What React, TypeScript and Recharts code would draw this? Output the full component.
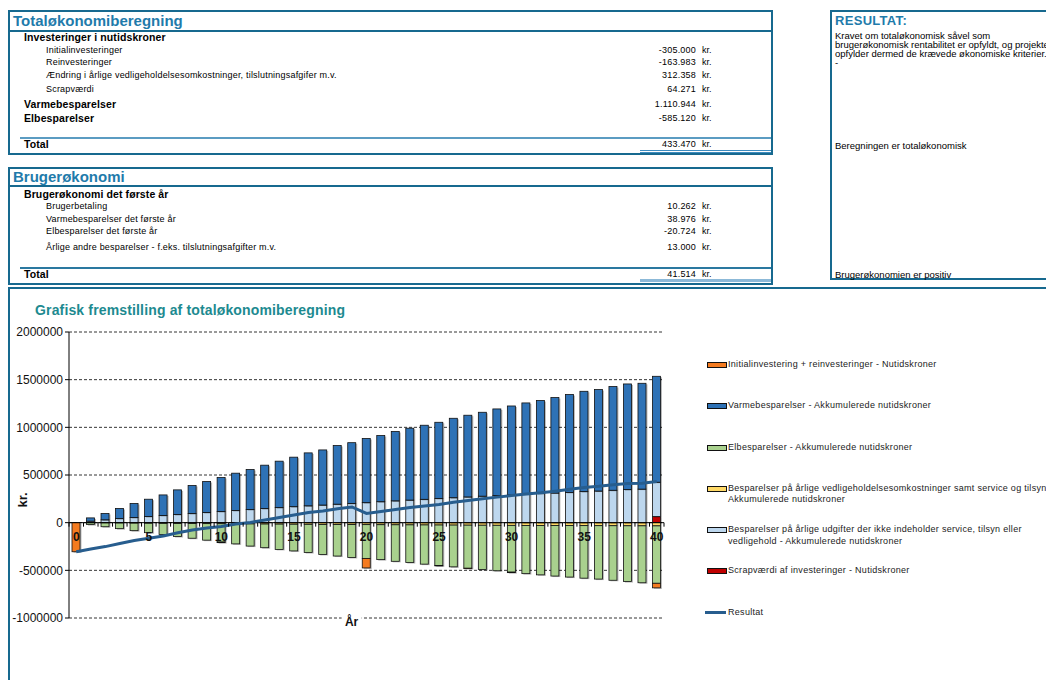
import React from 'react';
import { ComposedChart, Bar, Line, XAxis, YAxis, CartesianGrid, ReferenceLine } from 'recharts';

// ---------------- DATA ----------------
const years = ['0','1','2','3','4','5','6','7','8','9','10','11','12','13','14','15','16','17','18','19','20','21','22','23','24','25','26','27','28','29','30','31','32','33','34','35','36','37','38','39','40'];

const initialReinvest = [-305000,0,0,0,0,0,0,0,0,0,-6000,0,0,0,0,0,0,0,0,0,-100000,0,0,0,0,-4000,0,-3000,0,0,-5000,0,0,0,0,0,0,0,0,0,-48000];
const varme = [0,34000,66000,106000,147000,181000,215000,258000,294000,325000,357000,391000,420000,455000,487000,519000,555000,578000,615000,637000,673000,694000,727000,754000,777000,799000,833000,857000,880000,908000,932000,957000,976000,1001000,1026000,1052000,1064000,1088000,1108000,1110000,1111000];
const el = [0,-19000,-40000,-59000,-79000,-99000,-118000,-137000,-154000,-173000,-192000,-210000,-232000,-248000,-265000,-280000,-296000,-315000,-331000,-345000,-354000,-366000,-383000,-395000,-411000,-425000,-438000,-452000,-464000,-477000,-491000,-506000,-518000,-530000,-540000,-551000,-560000,-572000,-585000,-597000,-602000];
const vedligehold = [0,-1200,-2500,-3600,-4800,-6000,-7100,-8200,-9300,-10400,-11400,-12500,-13500,-14500,-15400,-16400,-17300,-18200,-19100,-20000,-20800,-21600,-22400,-23200,-24000,-24700,-25400,-26100,-26800,-27500,-28100,-28700,-29400,-30000,-30600,-31100,-31700,-32200,-32800,-33300,-33800];
const udgifter = [0,16000,30000,43000,54000,65000,76000,86000,96000,107000,117000,128000,138000,148000,158000,168000,177000,185000,194000,202000,210000,220000,229000,237000,245000,254000,262000,270000,278000,285000,292000,299000,305000,311000,318000,326000,332000,340000,347000,352000,360000];
const scrap = [0,0,0,0,0,0,0,0,0,0,0,0,0,0,0,0,0,0,0,0,0,0,0,0,0,0,0,0,0,0,0,0,0,0,0,0,0,0,0,0,64271];
const resultat = [-305000,-276000,-251000,-219000,-188000,-164000,-139000,-106000,-78000,-56000,-40000,-15000,2000,29000,54000,80000,106000,122000,146000,165000,97000,116000,138000,160000,176000,190000,214000,232000,250000,268000,284000,300000,313000,330000,350000,370000,382000,398000,412000,414000,432000];

const yTicks = [-1000000, -500000, 0, 500000, 1000000, 1500000, 2000000];

const legendNames = [
  'Initialinvestering + reinvesteringer - Nutidskroner',
  'Varmebesparelser - Akkumulerede nutidskroner',
  'Elbesparelser - Akkumulerede nutidskroner',
  'Besparelser på årlige vedligeholdelsesomkostninger samt service og tilsyn -\nAkkumulerede nutidskroner',
  'Besparelser på årlige udgifter der ikke indeholder service, tilsyn eller\nvedligehold - Akkumulerede nutidskroner',
  'Scrapværdi af investeringer - Nutidskroner',
  'Resultat',
];

const totalLabels = ['Investeringer i nutidskroner','Initialinvesteringer','Reinvesteringer','Ændring i årlige vedligeholdelsesomkostninger, tilslutningsafgifer m.v.','Scrapværdi','Varmebesparelser','Elbesparelser','Total'];
const totalValues = ['', '-305.000', '-163.983', '312.358', '64.271', '1.110.944', '-585.120', '433.470'];
const brugerLabels = ['Brugerøkonomi det første år','Brugerbetaling','Varmebesparelser det første år','Elbesparelser det første år','Årlige andre besparelser - f.eks. tilslutningsafgifter m.v.','Total'];
const brugerValues = ['', '10.262', '38.976', '-20.724', '13.000', '41.514'];
const resultatLines = ['Kravet om totaløkonomisk såvel som', 'brugerøkonomisk rentabilitet er opfyldt, og projektet', 'opfylder dermed de krævede økonomiske kriterier.', '-'];
const resultatNote1 = 'Beregningen er totaløkonomisk';
const resultatNote2 = 'Brugerøkonomien er positiv';

// ---------------- STYLE / LAYOUT ----------------
const BORDER = '#17698f';
const TITLE = '#1f7bab';
const C_ORANGE = '#f47b20';
const C_BLUE = '#2e72b6';
const C_GREEN = '#a9d18e';
const C_YELLOW = '#ffd966';
const C_LIGHT = '#bdd7ee';
const C_RED = '#c00000';
const C_LINE = '#275d8e';
const legendColors = [C_ORANGE, C_BLUE, C_GREEN, C_YELLOW, C_LIGHT, C_RED, C_LINE];

const FONT = "'Liberation Sans', Arial, sans-serif";

const totalRowY = [37.7, 50.7, 62.3, 75, 89.3, 104.3, 118.3, 144.3];
const totalBold = [true, false, false, false, false, true, true, true];
const brugerRowY = [194.3, 206, 219, 231.7, 247.3, 274.3];
const brugerBold = [true, false, false, false, false, true];

const CH_W = 1036, CH_H = 390;
const MARGIN = { top: 42, right: 382, bottom: 32, left: 0 };
const YAXIS_W = 59, XAXIS_H = 30;
const PLOT_H = CH_H - MARGIN.top - MARGIN.bottom - XAXIS_H;
const PLOT_W = CH_W - MARGIN.left - MARGIN.right - YAXIS_W;
const Y_MIN = -1000000, Y_MAX = 2000000;
const ZERO_Y = MARGIN.top + (PLOT_H * Y_MAX) / (Y_MAX - Y_MIN);
const BAND = PLOT_W / years.length;

const data = years.map((y, i) => ({
  year: y,
  initial: initialReinvest[i],
  varme: varme[i],
  el: el[i],
  vedl: vedligehold[i],
  udg: udgifter[i],
  scrap: scrap[i],
  resultat: resultat[i],
}));

function ShadowBar(props: any) {
  const { x, y, width, height, fill } = props;
  if (!height || Math.abs(height) < 0.01 || !width) return null;
  const top = height < 0 ? y + height : y;
  const h = Math.abs(height);
  return (
    <g>
      <rect x={x + 1.5} y={top + 1} width={width} height={h} fill="#000" fillOpacity={0.28} />
      <rect x={x} y={top} width={width} height={h} fill={fill} stroke="#111" strokeWidth={0.8} />
    </g>
  );
}

function XTick(props: any) {
  const { x, payload } = props;
  const v = Number(payload.value);
  const last = payload.value === years[years.length - 1];
  return (
    <g>
      <line x1={x - BAND / 2} x2={x - BAND / 2} y1={ZERO_Y} y2={ZERO_Y + 4} stroke="#000" strokeWidth={1} />
      {last && <line x1={x + BAND / 2} x2={x + BAND / 2} y1={ZERO_Y} y2={ZERO_Y + 4} stroke="#000" strokeWidth={1} />}
      {v % 5 === 0 && (
        <text x={x} y={ZERO_Y + 14} textAnchor="middle" dominantBaseline="central" fontSize={12} fontWeight="bold" fill="#111" fontFamily={FONT}>
          {payload.value}
        </text>
      )}
    </g>
  );
}

function XTitle(props: any) {
  const vb = props.viewBox || { x: MARGIN.left + YAXIS_W, y: MARGIN.top + PLOT_H, width: PLOT_W };
  const cx = vb.x + vb.width * 0.475;
  const cy = vb.y + 4;
  return (
    <g>
      <rect x={cx - 10} y={cy - 6} width={20} height={12} fill="#fff" />
      <text x={cx} y={cy} textAnchor="middle" dominantBaseline="central" fontSize={12} fontWeight="bold" fill="#111" fontFamily={FONT}>År</text>
    </g>
  );
}

function YTitle(props: any) {
  const vb = props.viewBox || { x: 0, y: MARGIN.top, height: PLOT_H };
  const cx = vb.x + 13;
  const cy = vb.y + vb.height * 0.587;
  return (
    <text x={cx} y={cy} transform={`rotate(-90 ${cx} ${cy})`} textAnchor="middle" dominantBaseline="central" fontSize={13} fontWeight="bold" fill="#111" fontFamily={FONT}>kr.</text>
  );
}

function ChartLegend() {
  return (
    <div style={{ position: 'absolute', left: 705, top: 359, width: 345, fontFamily: FONT, fontSize: 9, letterSpacing: 0.3, color: '#222' }}>
      {legendNames.map((name, i) => {
        const isLine = i === legendNames.length - 1;
        const lines = name.split('\n');
        return (
          <div key={i} style={{ position: 'relative', height: 41.3 }}>
            {isLine ? (
              <div style={{ position: 'absolute', left: 0, top: 4.5, width: 21, height: 3, background: legendColors[i] }} />
            ) : (
              <div style={{ position: 'absolute', left: 2, top: 3, width: 18, height: 4, background: legendColors[i], border: '1px solid #111' }} />
            )}
            <div style={{ position: 'absolute', left: 23, top: 0, lineHeight: '11.5px', whiteSpace: 'nowrap' }}>
              {lines.map((l, k) => (<div key={k}>{l}</div>))}
            </div>
          </div>
        );
      })}
    </div>
  );
}

function Row({ y, label, value, bold }: { y: number; label: string; value: string; bold: boolean }) {
  return (
    <>
      <div style={{ position: 'absolute', left: bold ? 24 : 46, top: y - 6.5, height: 13, lineHeight: '13px', fontSize: bold ? 10.5 : 9, letterSpacing: bold ? 0.1 : 0.2, fontWeight: bold ? 'bold' : 'normal', whiteSpace: 'nowrap', color: '#000' }}>{label}</div>
      {value !== '' && (
        <>
          <div style={{ position: 'absolute', left: 596, width: 100, textAlign: 'right', top: y - 6.5, lineHeight: '13px', fontSize: 9, letterSpacing: 0.2 }}>{value}</div>
          <div style={{ position: 'absolute', left: 702, top: y - 6.5, lineHeight: '13px', fontSize: 9 }}>kr.</div>
        </>
      )}
    </>
  );
}

export default function App() {
  return (
    <div style={{ position: 'absolute', left: 0, top: 0, width: 1046, height: 680, overflow: 'hidden', background: '#fff', fontFamily: FONT, color: '#000' }}>
      {/* Totaløkonomiberegning */}
      <div style={{ position: 'absolute', left: 8, top: 10, width: 765, height: 145, border: `2px solid ${BORDER}`, boxSizing: 'border-box' }} />
      <div style={{ position: 'absolute', left: 8, top: 30, width: 765, height: 2, background: BORDER }} />
      <div style={{ position: 'absolute', left: 13, top: 12, fontSize: 15, fontWeight: 'bold', color: TITLE, lineHeight: '18px' }}>Totaløkonomiberegning</div>
      {totalLabels.map((l, i) => (<Row key={i} y={totalRowY[i]} label={l} value={totalValues[i]} bold={totalBold[i]} />))}
      <div style={{ position: 'absolute', left: 20, top: 137, width: 751, height: 1.5, background: '#5b9cc2' }} />
      <div style={{ position: 'absolute', left: 640, top: 149.5, width: 131, height: 1, background: '#3d8cc0' }} />
      <div style={{ position: 'absolute', left: 640, top: 152, width: 131, height: 1, background: '#3d8cc0' }} />

      {/* Brugerøkonomi */}
      <div style={{ position: 'absolute', left: 8, top: 167, width: 765, height: 118, border: `2px solid ${BORDER}`, boxSizing: 'border-box' }} />
      <div style={{ position: 'absolute', left: 8, top: 185, width: 765, height: 2, background: BORDER }} />
      <div style={{ position: 'absolute', left: 13, top: 168, fontSize: 15, fontWeight: 'bold', color: TITLE, lineHeight: '18px' }}>Brugerøkonomi</div>
      {brugerLabels.map((l, i) => (<Row key={i} y={brugerRowY[i]} label={l} value={brugerValues[i]} bold={brugerBold[i]} />))}
      <div style={{ position: 'absolute', left: 20, top: 267, width: 751, height: 1.5, background: '#2a78a0' }} />
      <div style={{ position: 'absolute', left: 640, top: 279, width: 131, height: 3, background: '#8cb9d8' }} />

      {/* RESULTAT */}
      <div style={{ position: 'absolute', left: 830, top: 10, width: 240, height: 270, border: `2px solid ${BORDER}`, boxSizing: 'border-box' }} />
      <div style={{ position: 'absolute', left: 835, top: 13, fontSize: 13, fontWeight: 'bold', color: TITLE, lineHeight: '16px', letterSpacing: 0.3 }}>RESULTAT:</div>
      {resultatLines.map((l, i) => (
        <div key={i} style={{ position: 'absolute', left: 835, top: 31 + i * 9.1, fontSize: 9.5, lineHeight: '10px', whiteSpace: 'nowrap' }}>{l}</div>
      ))}
      <div style={{ position: 'absolute', left: 835, top: 140.5, fontSize: 9.5, lineHeight: '10px', whiteSpace: 'nowrap' }}>{resultatNote1}</div>
      <div style={{ position: 'absolute', left: 835, top: 270, fontSize: 9.5, lineHeight: '10px', whiteSpace: 'nowrap' }}>{resultatNote2}</div>

      {/* Chart frame */}
      <div style={{ position: 'absolute', left: 8, top: 287, width: 1100, height: 500, borderLeft: `2px solid ${BORDER}`, borderTop: `2px solid ${BORDER}`, boxSizing: 'border-box' }} />
      <div style={{ position: 'absolute', left: 35, top: 302, fontSize: 14, letterSpacing: 0.15, fontWeight: 'bold', color: '#1d8a90', lineHeight: '17px', whiteSpace: 'nowrap' }}>Grafisk fremstilling af totaløkonomiberegning</div>

      <div style={{ position: 'absolute', left: 10, top: 290, width: CH_W, height: CH_H }}>
        <ComposedChart width={CH_W} height={CH_H} data={data} margin={MARGIN} stackOffset="sign" barSize={8}>
          <CartesianGrid vertical={false} stroke="#000" strokeDasharray="3 2" strokeWidth={0.8} />
          <XAxis dataKey="year" height={XAXIS_H} interval={0} axisLine={false} tickLine={false} tick={<XTick />} label={<XTitle />} />
          <YAxis width={YAXIS_W} domain={[Y_MIN, Y_MAX]} ticks={yTicks} interval={0} axisLine={{ stroke: '#000' }} tickLine={{ stroke: '#000' }} tickSize={4} tickMargin={2} tick={{ fontSize: 12, fill: '#111', fontFamily: FONT }} label={<YTitle />} />
          <ReferenceLine y={0} stroke="#000" strokeWidth={1} />
          <Bar dataKey="scrap" stackId="a" fill={C_RED} shape={<ShadowBar />} isAnimationActive={false} />
          <Bar dataKey="vedl" stackId="a" fill={C_YELLOW} shape={<ShadowBar />} isAnimationActive={false} />
          <Bar dataKey="udg" stackId="a" fill={C_LIGHT} shape={<ShadowBar />} isAnimationActive={false} />
          <Bar dataKey="el" stackId="a" fill={C_GREEN} shape={<ShadowBar />} isAnimationActive={false} />
          <Bar dataKey="varme" stackId="a" fill={C_BLUE} shape={<ShadowBar />} isAnimationActive={false} />
          <Bar dataKey="initial" stackId="a" fill={C_ORANGE} shape={<ShadowBar />} isAnimationActive={false} />
          <Line dataKey="resultat" type="linear" stroke={C_LINE} strokeWidth={3} dot={false} isAnimationActive={false} />
        </ComposedChart>
      </div>
      <ChartLegend />
    </div>
  );
}
